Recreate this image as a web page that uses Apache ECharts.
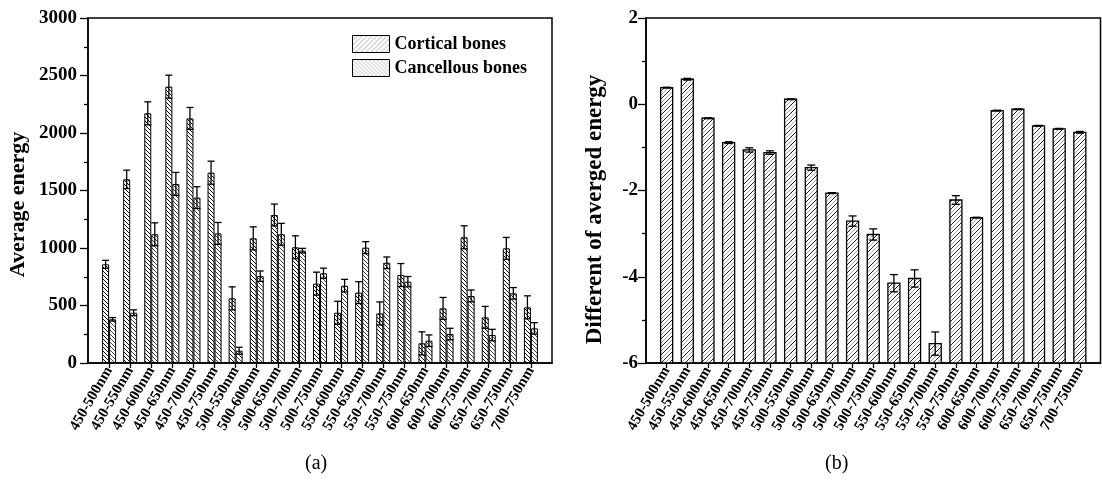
<!DOCTYPE html>
<html>
<head>
<meta charset="utf-8">
<title>Average energy of bones</title>
<script src="https://cdn.jsdelivr.net/npm/echarts@6/dist/echarts.min.js"></script>
<style>
    html, body { margin: 0; padding: 0; background: #fff; }
    #chart { width: 1102px; height: 485px; }
</style>
</head>
<body>
<div id="chart"></div>
<script>
const categories = [
    '450-500nm', '450-550nm', '450-600nm', '450-650nm', '450-700nm', '450-750nm',
    '500-550nm', '500-600nm', '500-650nm', '500-700nm', '500-750nm',
    '550-600nm', '550-650nm', '550-700nm', '550-750nm',
    '600-650nm', '600-700nm', '600-750nm',
    '650-700nm', '650-750nm',
    '700-750nm'
]

// (a) average energy
const cortical = [858, 1597, 2171, 2403, 2127, 1655, 562, 1084, 1287, 1006, 690, 437, 612, 431, 765, 171, 475, 1093, 397, 997, 484]
const corticalErr = [35, 80, 100, 100, 95, 100, 100, 100, 95, 100, 100, 100, 95, 100, 100, 100, 95, 100, 95, 95, 100]
const cancellous = [380, 437, 1119, 1557, 1438, 1127, 107, 755, 1119, 977, 780, 672, 1003, 872, 707, 194, 252, 583, 243, 606, 301]
const cancellousErr = [15, 25, 100, 100, 95, 95, 30, 45, 95, 20, 45, 55, 52, 50, 45, 50, 50, 52, 50, 50, 50]

// (b) difference of averaged energy
const diff = [0.385, 0.58, -0.325, -0.89, -1.06, -1.12, 0.116, -1.47, -2.06, -2.71, -3.02, -4.15, -4.04, -5.55, -2.22, -2.63, -0.148, -0.116, -0.5, -0.57, -0.65]
const diffErr = [0.01, 0.02, 0.01, 0.02, 0.05, 0.04, 0.01, 0.06, 0.01, 0.12, 0.13, 0.2, 0.2, 0.27, 0.1, 0.01, 0.01, 0.01, 0.01, 0.01, 0.02]

const leftTicks = { min: 0, max: 3000, interval: 500 }
const rightTicks = { min: -6, max: 2, interval: 2 }

// one empty slot at each end, the axis runs one category past the first and last bars
const axisCategories = [''].concat(categories, [''])

const FONT = 'Liberation Serif'

// diagonal hatch as a repeating canvas pattern
// dir '/' or '\\', lines: [{color, offset}]
function makeHatch(step, dir, lines, lineWidth) {
    const canvas = document.createElement('canvas')
    canvas.width = step
    canvas.height = step
    const ctx = canvas.getContext('2d')
    ctx.fillStyle = '#fff'
    ctx.fillRect(0, 0, step, step)
    ctx.lineWidth = lineWidth
    lines.forEach(line => {
        ctx.strokeStyle = line.color
        for (let k = -1; k <= 1; k++) {
            const x0 = k * step + line.offset
            ctx.beginPath()
            if (dir === '/') {
                ctx.moveTo(x0, step)
                ctx.lineTo(x0 + step, 0)
            } else {
                ctx.moveTo(x0, 0)
                ctx.lineTo(x0 + step, step)
            }
            ctx.stroke()
        }
    })
    return { image: canvas, repeat: 'repeat' }
}

const corticalFill = makeHatch(4, '\\', [{ color: '#111', offset: 0 }], 1)
const cancellousFill = makeHatch(4, '\\', [{ color: '#444', offset: 0 }], 1)
const legendCortical = makeHatch(5, '/', [{ color: '#aaa', offset: 0 }], 1)
const legendCancellous = makeHatch(4, '\\', [{ color: '#bbb', offset: 0 }], 1)
const diffFill = makeHatch(8, '/', [{ color: '#222', offset: 0 }, { color: '#aaa', offset: 4 }], 1)

function errorBarItem(values, errors, offset, halfCap) {
    return function (params, api) {
        const idx = params.dataIndex
        const name = categories[idx]
        const v = values[idx]
        const e = errors[idx]
        const hi = api.coord([name, v + e])
        const lo = api.coord([name, v - e])
        const x = hi[0] + offset
        const style = { stroke: '#000', lineWidth: 1.3 }
        return {
            type: 'group',
            children: [
                { type: 'line', shape: { x1: x, y1: hi[1], x2: x, y2: lo[1] }, style },
                { type: 'line', shape: { x1: x - halfCap, y1: hi[1], x2: x + halfCap, y2: hi[1] }, style },
                { type: 'line', shape: { x1: x - halfCap, y1: lo[1], x2: x + halfCap, y2: lo[1] }, style }
            ]
        }
    }
}

// bars of (b) stand on the bottom of the axis, not on zero
function renderDiffBar(params, api) {
    const idx = params.dataIndex
    const name = categories[idx]
    const top = api.coord([name, diff[idx]])
    const bottom = api.coord([name, rightTicks.min])
    return {
        type: 'rect',
        shape: { x: top[0] - 6, y: top[1], width: 12, height: bottom[1] - top[1] },
        style: { fill: diffFill, stroke: '#000', lineWidth: 1.3 }
    }
}

function xAxisFor(gridIndex) {
    return {
        type: 'category',
        gridIndex: gridIndex,
        data: axisCategories,
        boundaryGap: false,
        axisLine: { onZero: false, lineStyle: { color: '#000', width: 1.5 } },
        axisTick: {
            length: 5,
            interval: (index, value) => value !== '',
            lineStyle: { color: '#000', width: 1.3 }
        },
        axisLabel: {
            interval: 0,
            rotate: 60,
            margin: 5,
            color: '#000',
            fontFamily: FONT,
            fontWeight: 'bold',
            fontSize: 15
        },
        splitLine: { show: false }
    }
}

function yAxisFor(gridIndex, ticks, name, nameGap, nameSize, nameShift, labelMargin) {
    return {
        type: 'value',
        gridIndex: gridIndex,
        min: ticks.min,
        max: ticks.max,
        interval: ticks.interval,
        name: name,
        nameLocation: 'middle',
        nameGap: nameGap,
        nameTextStyle: {
            color: '#000',
            fontFamily: FONT,
            fontWeight: 'bold',
            fontSize: nameSize,
            padding: [0, nameShift, 0, 0]
        },
        axisLine: { show: true, onZero: false, lineStyle: { color: '#000', width: 1.5 } },
        axisTick: { show: true, length: 8, lineStyle: { color: '#000', width: 1.3 } },
        minorTick: { show: true, splitNumber: 2, length: 4, lineStyle: { color: '#000', width: 1.3 } },
        axisLabel: {
            color: '#000',
            fontFamily: FONT,
            fontWeight: 'bold',
            fontSize: 19,
            margin: labelMargin,
            formatter: value => String(value)
        },
        splitLine: { show: false }
    }
}

const chart = echarts.init(document.getElementById('chart'))

const option = {
    animation: false,
    backgroundColor: '#fff',
    grid: [
        { left: 88, top: 18, width: 464, height: 345, show: true, borderColor: '#000', borderWidth: 1.5 },
        { left: 646, top: 18, width: 463, height: 345, show: true, borderColor: '#000', borderWidth: 1.5 }
    ],
    xAxis: [xAxisFor(0), xAxisFor(1)],
    yAxis: [
        yAxisFor(0, leftTicks, 'Average energy', 59, 22, 28, 11),
        yAxisFor(1, rightTicks, 'Different of averged energy', 39, 23, 38, 8)
    ],
    legend: {
        orient: 'vertical',
        left: 347,
        top: 30,
        itemWidth: 37,
        itemHeight: 17,
        itemGap: 6,
        icon: 'rect',
        textStyle: { color: '#000', fontFamily: FONT, fontWeight: 'bold', fontSize: 18 },
        data: [
            { name: 'Cortical bones', itemStyle: { color: legendCortical, borderColor: '#000', borderWidth: 1 } },
            { name: 'Cancellous bones', itemStyle: { color: legendCancellous, borderColor: '#000', borderWidth: 1 } }
        ]
    },
    series: [
        {
            name: 'Cortical bones',
            type: 'bar',
            xAxisIndex: 0,
            yAxisIndex: 0,
            barWidth: 7,
            barGap: '0%',
            itemStyle: { color: corticalFill, borderColor: '#000', borderWidth: 1 },
            data: categories.map((c, i) => [c, cortical[i]])
        },
        {
            name: 'Cancellous bones',
            type: 'bar',
            xAxisIndex: 0,
            yAxisIndex: 0,
            barWidth: 7,
            barGap: '0%',
            itemStyle: { color: cancellousFill, borderColor: '#000', borderWidth: 1 },
            data: categories.map((c, i) => [c, cancellous[i]])
        },
        {
            name: 'cortical error',
            type: 'custom',
            xAxisIndex: 0,
            yAxisIndex: 0,
            renderItem: errorBarItem(cortical, corticalErr, -3.5, 3.5),
            data: categories.map((c, i) => [c, cortical[i]]),
            z: 3
        },
        {
            name: 'cancellous error',
            type: 'custom',
            xAxisIndex: 0,
            yAxisIndex: 0,
            renderItem: errorBarItem(cancellous, cancellousErr, 3.5, 3.5),
            data: categories.map((c, i) => [c, cancellous[i]]),
            z: 3
        },
        {
            name: 'difference',
            type: 'custom',
            xAxisIndex: 1,
            yAxisIndex: 1,
            renderItem: renderDiffBar,
            data: categories.map((c, i) => [c, diff[i]])
        },
        {
            name: 'difference error',
            type: 'custom',
            xAxisIndex: 1,
            yAxisIndex: 1,
            renderItem: errorBarItem(diff, diffErr, 0, 4),
            data: categories.map((c, i) => [c, diff[i]]),
            z: 3
        }
    ],
    graphic: [
        { type: 'text', left: 305, top: 454, style: { text: '(a)', font: '20px "Liberation Serif"', fill: '#000' } },
        { type: 'text', left: 825, top: 454, style: { text: '(b)', font: '20px "Liberation Serif"', fill: '#000' } }
    ]
}

chart.setOption(option)
</script>
</body>
</html>
